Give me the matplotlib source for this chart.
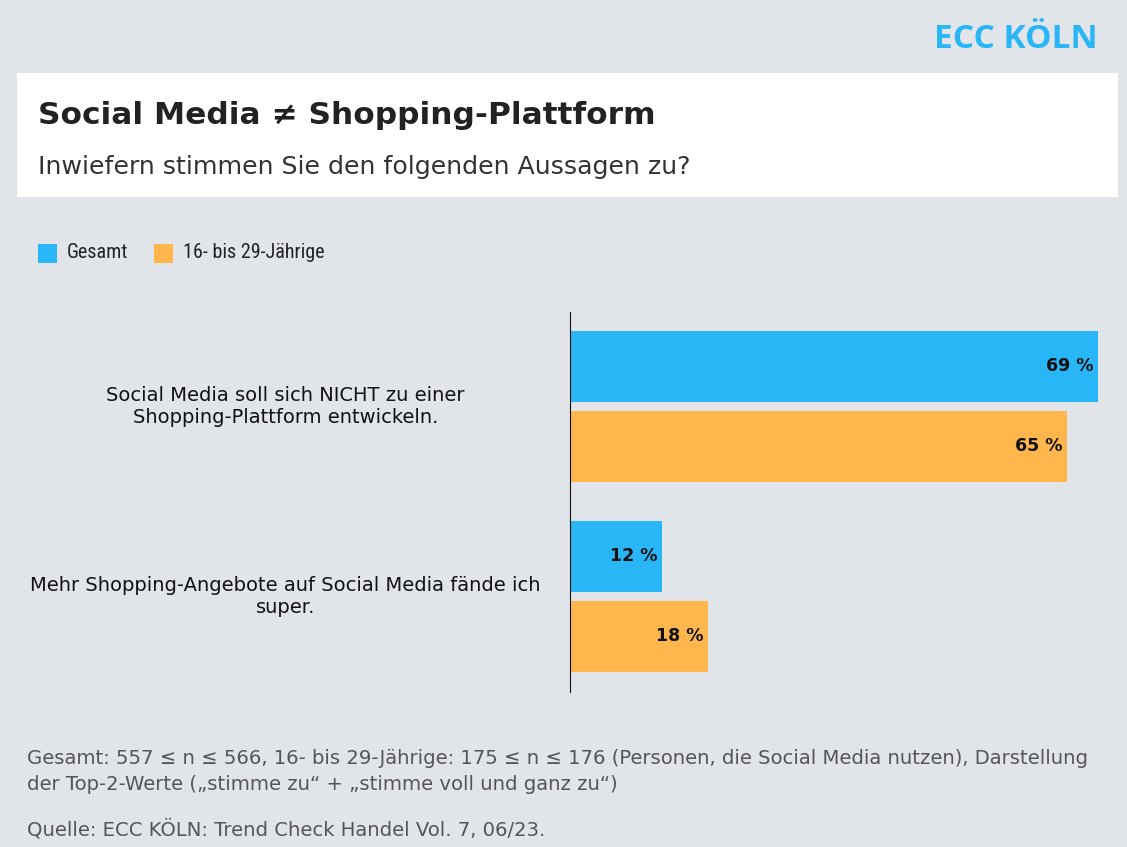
import matplotlib
matplotlib.use("Agg")
import matplotlib.pyplot as plt
from matplotlib.patches import Rectangle

categories = ["Social Media soll sich NICHT zu einer\nShopping-Plattform entwickeln.",
              "Mehr Shopping-Angebote auf Social Media fände ich\nsuper."]
series_names = ["Gesamt", "16- bis 29-Jährige"]
gesamt = [69, 12]
jung = [65, 18]
colors = ["#29b6f6", "#ffb74d"]
bg = "#e1e5e9"

W, H = 1127, 847
fig = plt.figure(figsize=(W/100, H/100), dpi=100, facecolor=bg)
plt.rcParams['font.family'] = ['DejaVu Sans']

def fx(x): return x / W
def fy(y): return 1 - y / H

fig.patches.append(Rectangle((fx(17), fy(197)), fx(1118)-fx(17), fy(73)-fy(197),
                             transform=fig.transFigure, facecolor="white", edgecolor="none", zorder=0))
fig.text(fx(1098), fy(40), "ECC KÖLN", ha="right", va="center", fontsize=24, fontweight="bold", color="#29b6f6", family=['Open Sans'])
fig.text(fx(38), fy(115), "Social Media ≠ Shopping-Plattform", ha="left", va="center", fontsize=22.5, fontweight="bold", color="#222222")
fig.text(fx(38), fy(167), "Inwiefern stimmen Sie den folgenden Aussagen zu?", ha="left", va="center", fontsize=18.2, color="#333333")

for (x0, name, c) in [(38, series_names[0], colors[0]), (154, series_names[1], colors[1])]:
    fig.patches.append(Rectangle((fx(x0), fy(263)), fx(19), 19/H, transform=fig.transFigure, facecolor=c, edgecolor="none"))
    fig.text(fx(x0+29), fy(253), name, ha="left", va="center", fontsize=14.5, color="#222222", family=['Roboto Condensed', 'Roboto', 'DejaVu Sans'])

ax = fig.add_axes([fx(570), fy(692), fx(1098)-fx(570), fy(312)-fy(692)])
ax.set_facecolor("none")
h = 71/190; off = 40/190
for i in range(len(categories)):
    for j, (vals, c) in enumerate([(gesamt, colors[0]), (jung, colors[1])]):
        y = i + (-off if j == 0 else off)
        ax.barh(y, vals[i], height=h, color=c)
        ax.text(vals[i] - 0.6, y, f"{vals[i]} %", ha="right", va="center", fontsize=12.5, fontweight="bold", color="#111111")
    ax.text(-37.2, i, categories[i], ha="center", va="center", fontsize=14, color="#111111", transform=ax.transData, clip_on=False)
ax.set_xlim(0, 69)
ax.set_ylim(1.503, -0.497)
for s in ["top", "right", "bottom"]:
    ax.spines[s].set_visible(False)
ax.spines["left"].set_color("#111111")
ax.set_xticks([]); ax.set_yticks([])

foot = "#555555"
fig.text(fx(27), fy(758), "Gesamt: 557 ≤ n ≤ 566, 16- bis 29-Jährige: 175 ≤ n ≤ 176 (Personen, die Social Media nutzen), Darstellung",
         ha="left", va="center", fontsize=14.1, color=foot)
fig.text(fx(27), fy(784), "der Top-2-Werte („stimme zu“ + „stimme voll und ganz zu“)", ha="left", va="center", fontsize=14.1, color=foot)
fig.text(fx(27), fy(829), "Quelle: ECC KÖLN: Trend Check Handel Vol. 7, 06/23.", ha="left", va="center", fontsize=14.1, color=foot)

fig.savefig("out.png", dpi=100, facecolor=bg)
